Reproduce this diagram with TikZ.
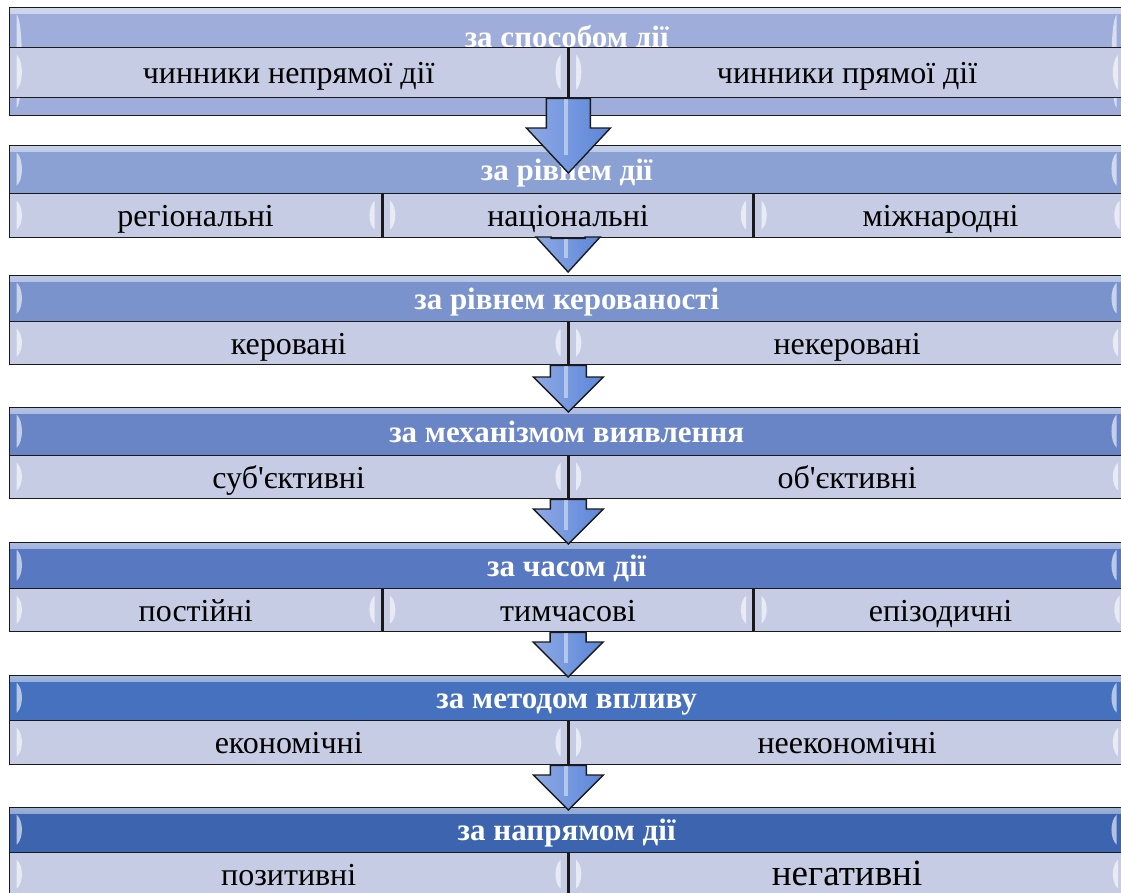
\documentclass[tikz,border=0pt]{standalone}
\usepackage{fontspec}
\setmainfont{Liberation Serif}
\usetikzlibrary{positioning,calc}

\definecolor{hdA}{HTML}{9EADD9}
\definecolor{hdB}{HTML}{8CA1D3}
\definecolor{hdC}{HTML}{7B93CC}
\definecolor{hdD}{HTML}{6A85C6}
\definecolor{hdE}{HTML}{5879C1}
\definecolor{hdF}{HTML}{4671BE}
\definecolor{hdG}{HTML}{3C64AF}
\definecolor{subfill}{HTML}{C6CCE4}
\definecolor{arrowL}{HTML}{8EA9E4}
\definecolor{arrowM}{HTML}{3F6FCD}
\definecolor{arrowR}{HTML}{5C86D9}
\definecolor{edge}{HTML}{1A1A1A}

% white glass glints at both inner edges of a box
\newcommand\glintpic{%
  \fill[white, opacity=.6]
    ([xshift=7pt,yshift=-7pt]path picture bounding box.north west)
    .. controls +(7pt,-6pt) and +(7pt,6pt) ..
    ([xshift=7pt,yshift=8pt]path picture bounding box.south west) -- cycle;
  \fill[white, opacity=.6]
    ([xshift=-7pt,yshift=-7pt]path picture bounding box.north east)
    .. controls +(-7pt,-6pt) and +(-7pt,6pt) ..
    ([xshift=-7pt,yshift=8pt]path picture bounding box.south east) -- cycle;}

% block arrow: from, to, shaft half, head half, head length, tip overlap
\newcommand\blockarrow[6]{%
  \path[blockarrow] let \p1=(#1), \p2=(#2) in
    ({\x1-#3pt},{\y1}) -- ({\x1-#3pt},{\y2+#5pt-(#6pt)}) -- ({\x1-#4pt},{\y2+#5pt-(#6pt)})
    -- ({\x1},{\y2-(#6pt)}) -- ({\x1+#4pt},{\y2+#5pt-(#6pt)}) -- ({\x1+#3pt},{\y2+#5pt-(#6pt)})
    -- ({\x1+#3pt},{\y1}) -- cycle;
  \fill[white, opacity=.45] let \p1=(#1), \p2=(#2) in
    ({\x1-4pt},{\y1-1pt}) rectangle ({\x1},{\y2+#5pt*0.4-(#6pt)});}

\tikzset{
  header/.style={draw=edge, line width=1.4pt, fill=#1, minimum width=1114pt,
    anchor=north west, inner sep=0pt, text=white, text height=21pt, text depth=0pt,
    font=\bfseries\fontsize{31}{36}\selectfont,
    path picture={\shade[top color=white!50!#1, bottom color=#1]
      (path picture bounding box.north west) rectangle ([yshift=-6pt]path picture bounding box.north east);
      \glintpic}},
  titletext/.style={text=white, inner sep=0pt, font=\bfseries\fontsize{31}{36}\selectfont},
  subbox/.style={draw=edge, line width=1.4pt, fill=subfill, anchor=north west,
    inner sep=0pt, text height=22pt, text depth=0pt,
    font=\fontsize{32}{36}\selectfont, path picture={\glintpic}},
  blockarrow/.style={draw=edge, line width=1.4pt, line join=miter,
    left color=arrowL, middle color=arrowM, right color=arrowR}
}

\begin{document}
\begin{tikzpicture}[x=1pt, y=-1pt]
  \useasboundingbox (0,0) rectangle (1121,892);
  \clip (0,0) rectangle (1121,892);

  % за способом дії
  \node[header=hdA, minimum height=108pt] (h1) at (9,7) {};
  \node[titletext, anchor=base] (t1) at ([yshift=-40pt]h1.north) {за способом дії};
  \node[subbox, minimum width=558pt, minimum height=50pt] (s1a) at (9,47) {чинники непрямої дії};
  \node[subbox, minimum width=556pt, minimum height=50pt, right=0pt of s1a] (s1b) {чинники прямої дії};

  % за рівнем дії
  \node[header=hdB, minimum height=48pt] (h2) at (9,145) {за рівнем дії};
  \node[subbox, minimum width=372pt, minimum height=44pt] (s2a) at (9,193) {регіональні};
  \node[subbox, minimum width=370pt, minimum height=44pt, right=0pt of s2a] (s2b) {національні};
  \node[subbox, minimum width=372pt, minimum height=44pt, right=0pt of s2b] (s2c) {міжнародні};

  % за рівнем керованості
  \node[header=hdC, minimum height=46pt] (h3) at (9,275) {за рівнем керованості};
  \node[subbox, minimum width=558pt, minimum height=43pt] (s3a) at (9,321) {керовані};
  \node[subbox, minimum width=556pt, minimum height=43pt, right=0pt of s3a] (s3b) {некеровані};

  % за механізмом виявлення
  \node[header=hdD, minimum height=48pt] (h4) at (9,407) {за механізмом виявлення};
  \node[subbox, minimum width=558pt, minimum height=43pt] (s4a) at (9,455) {суб\textquotesingle єктивні};
  \node[subbox, minimum width=556pt, minimum height=43pt, right=0pt of s4a] (s4b) {об\textquotesingle єктивні};

  % за часом дії
  \node[header=hdE, minimum height=46pt] (h5) at (9,542) {за часом дії};
  \node[subbox, minimum width=372pt, minimum height=43pt] (s5a) at (9,588) {постійні};
  \node[subbox, minimum width=370pt, minimum height=43pt, right=0pt of s5a] (s5b) {тимчасові};
  \node[subbox, minimum width=372pt, minimum height=43pt, right=0pt of s5b] (s5c) {епізодичні};

  % за методом впливу
  \node[header=hdF, minimum height=45pt] (h6) at (9,675) {за методом впливу};
  \node[subbox, minimum width=558pt, minimum height=44pt] (s6a) at (9,720) {економічні};
  \node[subbox, minimum width=556pt, minimum height=44pt, right=0pt of s6a] (s6b) {неекономічні};

  % за напрямом дії
  \node[header=hdG, minimum height=45pt] (h7) at (9,807) {за напрямом дії};
  \node[subbox, minimum width=558pt, minimum height=44pt] (s7a) at (9,852) {позитивні};
  \node[subbox, minimum width=556pt, minimum height=44pt, right=0pt of s7a,
    font=\fontsize{37}{42}\selectfont] (s7b) {негативні};

  % arrows between the levels
  \blockarrow{s1a.south east}{h2.north}{22}{42}{45}{28}
  \blockarrow{s2b.south}{h3.north}{17}{32}{35}{-3}
  \blockarrow{s3a.south east}{h4.north}{18}{35}{35}{5}
  \blockarrow{s4a.south east}{h5.north}{18}{35}{35}{2}
  \blockarrow{s5b.south}{h6.north}{18}{35}{35}{2}
  \blockarrow{s6a.south east}{h7.north}{18}{35}{35}{3}
\end{tikzpicture}
\end{document}
